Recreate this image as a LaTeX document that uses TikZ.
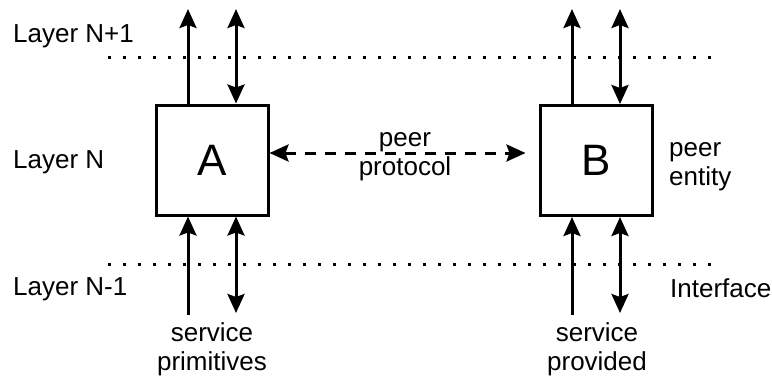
\documentclass[tikz,border=0pt]{standalone}
\usepackage{fontspec}
\setmainfont{Liberation Sans}
\usetikzlibrary{arrows.meta,calc}
\begin{document}
\begin{tikzpicture}[x=1bp,y=-1bp,
  tip/.tip={Stealth[length=19bp,width=17bp,inset=3bp]},
  entity/.style={draw,line width=3bp,minimum width=112bp,minimum height=110bp,inner sep=0pt,font=\fontsize{44bp}{50bp}\selectfont},
  conn/.style={line width=3bp},
  layerline/.style={line width=3bp,dash pattern=on 3bp off 12bp},
  lbl/.style={inner sep=0pt,font=\fontsize{26bp}{29bp}\selectfont},
  peerline/.style={line width=3bp,dash pattern=on 11bp off 9bp}]
\useasboundingbox (0,0) rectangle (772,379);
% boxes
\node[entity] (A) at (212,160) {A};
\node[entity] (B) at (596,160.5) {B};
% layer boundaries
\coordinate (d1l) at (108,57);
\coordinate (d1r) at (717,57);
\coordinate (d2l) at (108,264);
\coordinate (d2r) at (717,264);
\draw[layerline] (d1l) -- (d1r);
\draw[layerline] (d2l) -- (d2r);
% free ends of arrows
\coordinate (At1) at (188,9);
\coordinate (At2) at (236,9);
\coordinate (Ab1) at (188,315);
\coordinate (Ab2) at (236,313);
\coordinate (Bt1) at (572,9);
\coordinate (Bt2) at (620,9);
\coordinate (Bb1) at (572,315);
\coordinate (Bb2) at (620,313);
% A arrows
\draw[conn,-tip] ($(A.north)+(-24,0)$) -- (At1);
\draw[conn,tip-tip] ($(A.north)+(24,0)$) -- (At2);
\draw[conn,-tip] (Ab1) -- ($(A.south)+(-24,0)$);
\draw[conn,tip-tip] ($(A.south)+(24,0)$) -- (Ab2);
% B arrows
\draw[conn,-tip] ($(B.north)+(-24,0)$) -- (Bt1);
\draw[conn,tip-tip] ($(B.north)+(24,0)$) -- (Bt2);
\draw[conn,-tip] (Bb1) -- ($(B.south)+(-24,0)$);
\draw[conn,tip-tip] ($(B.south)+(24,0)$) -- (Bb2);
% peer protocol
\draw[peerline,tip-tip] ($(A.east)+(0,-7)$) -- ($(B.west)+(-13,-7.5)$);
\node[lbl,align=center,anchor=base] (pp) at (405,175) {peer\\protocol};
% labels
\node[lbl,anchor=base west] (l1) at (13,42) {Layer N+1};
\node[lbl,anchor=base west] (l2) at (13,168) {Layer N};
\node[lbl,anchor=base west] (l3) at (13,295) {Layer N-1};
\node[lbl,align=left,anchor=base west] (pe) at (669,185) {peer\\entity};
\node[lbl,anchor=base west] (ifc) at (670,297) {Interface};
\node[lbl,align=center,anchor=base] (sp) at (212,370) {service\\primitives};
\node[lbl,align=center,anchor=base] (sv) at (597,370) {service\\provided};
\end{tikzpicture}
\end{document}
